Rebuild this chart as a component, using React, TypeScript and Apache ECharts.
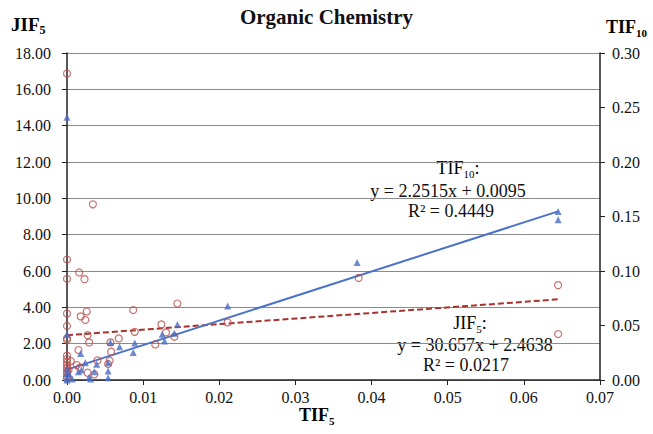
import React, { useEffect, useRef } from "react";
import * as echarts from "echarts";

// TIF5 (x) vs JIF5 (left axis)
const jifX = [
  0, 0.0034, 0, 0.0016, 0, 0.0023, 0, 0, 0.0018, 0.0026, 0.0024, 0.0087, 0.0145,
  0, 0, 0.0027, 0.0029, 0.0057, 0.0068, 0.0089, 0.0124, 0.013, 0.0141, 0.0116,
  0, 0.0015, 0.0005, 0.0017, 0.0013, 0.004, 0.0027, 0.0036, 0.0058, 0.0056, 0.0054,
  0.0211, 0.0383, 0.0645, 0.0645,
  0, 0, 0, 0, 0, 0, 0, 0, 0.0002,
];
const jifY = [
  16.87, 9.67, 6.63, 5.92, 5.57, 5.55, 3.66, 2.97, 3.5, 3.77, 3.3, 3.85, 4.21,
  2.3, 2.2, 2.47, 2.07, 2.07, 2.29, 2.65, 3.06, 2.62, 2.38, 1.96,
  1.34, 1.65, 1.04, 0.68, 0.82, 1.08, 0.4, 0.31, 1.56, 1.06, 0.88,
  3.17, 5.62, 5.22, 2.53,
  1.15, 0.98, 0.82, 0.65, 0.5, 0.35, 0.18, 0.08, 0.55,
];

// TIF5 (x) vs TIF10 (right axis)
const tifX = [
  0, 0.0381, 0.0645, 0.0645, 0.0211, 0.0145, 0.0125, 0.0128, 0.0141, 0.0089,
  0.0087, 0.0069, 0.0057, 0, 0.0018, 0.0024, 0.0003, 0.0015, 0.0019, 0.0036,
  0.0039, 0.0054, 0.0054, 0.0054, 0.0029, 0.0031, 0, 0, 0, 0, 0.0007,
];
const tifY = [
  0.241, 0.1077, 0.1546, 0.147, 0.068, 0.051, 0.042, 0.0357, 0.043, 0.034,
  0.0253, 0.0305, 0.0345, 0.042, 0.0244, 0.0158, 0.0052, 0.0076, 0.0091, 0.0076,
  0.0144, 0.0158, 0.0082, 0.002, 0.0025, 0.001, 0.002, 0.006, 0.01, 0, 0.001,
];

// Trend line coefficients [slope, intercept] and x range
const jifTrend = [30.657, 2.4638];
const tifTrend = [2.2515, 0.0095];
const trendXRange = [0, 0.0645];

const xTicks = [0, 0.01, 0.02, 0.03, 0.04, 0.05, 0.06, 0.07];
const leftTicks = [0, 2, 4, 6, 8, 10, 12, 14, 16, 18];
const rightTicks = [0, 0.05, 0.1, 0.15, 0.2, 0.25, 0.3];

const SERIF = "'Liberation Serif', 'Times New Roman', serif";

export default function App() {
  const ref = useRef<HTMLDivElement>(null);
  useEffect(() => {
    document.body.style.margin = "0";
    const chart = echarts.init(ref.current!, null, { renderer: "svg" });
    const line = (c: number[]) =>
      trendXRange.map((x) => [x, c[0] * x + c[1]]);
    const sub = (size: number, bold: boolean) => ({
      a: { fontFamily: SERIF, fontSize: size, fontWeight: bold ? "bold" : "normal", color: "#111", lineHeight: size + 1, verticalAlign: "bottom" as const },
      b: { fontFamily: SERIF, fontSize: Math.round(size * 0.62), fontWeight: bold ? "bold" : "normal", color: "#111", lineHeight: Math.round(size * 0.62), verticalAlign: "bottom" as const, padding: [0, 0, -2, 0] },
    });
    const axisLabel = {
      fontFamily: SERIF,
      fontSize: 16,
      color: "#111",
      formatter: (v: number) => v.toFixed(2),
    };
    const plain = (text: string, x: number, y: number) => ({
      type: "text",
      x,
      y,
      style: { text, fontFamily: SERIF, fontSize: 18, fill: "#111", align: "center" },
    });
    chart.setOption({
      animation: false,
      backgroundColor: "#fff",
      grid: { left: 67, right: 53, top: 53, bottom: 54 },
      xAxis: {
        type: "value",
        min: xTicks[0],
        max: xTicks[xTicks.length - 1],
        interval: 0.01,
        axisLine: { show: true, onZero: false, lineStyle: { color: "#222", width: 1.5 } },
        axisTick: { show: true, inside: false, length: 5, lineStyle: { color: "#222" } },
        splitLine: { show: false },
        axisLabel: { ...axisLabel, margin: 9 },
      },
      yAxis: [
        {
          type: "value",
          min: leftTicks[0],
          max: leftTicks[leftTicks.length - 1],
          interval: 2,
          axisLine: { show: true, onZero: false, lineStyle: { color: "#222", width: 1.5 } },
          axisTick: { show: true, length: 5, lineStyle: { color: "#222" } },
          splitLine: { show: true, lineStyle: { color: "#8a8a8a", width: 1 } },
          axisLabel: { ...axisLabel, margin: 16 },
        },
        {
          type: "value",
          min: rightTicks[0],
          max: rightTicks[rightTicks.length - 1],
          interval: 0.05,
          position: "right",
          axisLine: { show: true, onZero: false, lineStyle: { color: "#222", width: 1.5 } },
          axisTick: { show: true, length: 5, lineStyle: { color: "#222" } },
          splitLine: { show: false },
          axisLabel: { ...axisLabel, margin: 12 },
        },
      ],
      series: [
        {
          name: "JIF5",
          type: "scatter",
          yAxisIndex: 0,
          symbol: "circle",
          symbolSize: 7,
          itemStyle: { color: "rgba(0,0,0,0)", borderColor: "#b8504e", borderWidth: 1.2 },
          data: jifX.map((x, i) => [x, jifY[i]]),
          z: 3,
        },
        {
          name: "TIF10",
          type: "scatter",
          yAxisIndex: 1,
          symbol: "triangle",
          symbolSize: 7,
          itemStyle: { color: "#4a6cc4" },
          data: tifX.map((x, i) => [x, tifY[i]]),
          z: 4,
        },
        {
          name: "JIF5 trend",
          type: "line",
          yAxisIndex: 0,
          showSymbol: false,
          symbol: "none",
          lineStyle: { color: "#a8322e", width: 2, type: [6, 3] },
          data: line(jifTrend),
          z: 2,
        },
        {
          name: "TIF10 trend",
          type: "line",
          yAxisIndex: 1,
          showSymbol: false,
          symbol: "none",
          lineStyle: { color: "#4a72c8", width: 2 },
          data: line(tifTrend),
          z: 2,
        },
      ],
      graphic: [
        {
          type: "text",
          left: "center",
          top: 6,
          style: { text: "Organic Chemistry", fontFamily: SERIF, fontSize: 21, fontWeight: "bold", fill: "#111" },
        },
        {
          type: "text",
          left: 11,
          top: 15,
          style: { text: "{a|JIF}{b|5}", rich: sub(19, true) },
        },
        {
          type: "text",
          left: 606,
          top: 18,
          style: { text: "{a|TIF}{b|10}", rich: sub(18, true) },
        },
        {
          type: "text",
          left: 299,
          top: 406,
          style: { text: "{a|TIF}{b|5}", rich: sub(18, true) },
        },
        {
          type: "text",
          x: 458,
          y: 158,
          style: { text: "{a|TIF}{b|10}{a|:}", rich: sub(18, false), align: "center" },
        },
        plain("y = 2.2515x + 0.0095", 448, 182),
        plain("R² = 0.4449", 451, 202),
        {
          type: "text",
          x: 470,
          y: 313,
          style: { text: "{a|JIF}{b|5}{a|:}", rich: sub(18, false), align: "center" },
        },
        plain("y = 30.657x + 2.4638", 475, 336),
        plain("R² = 0.0217", 466, 356),
      ],
    });
    return () => chart.dispose();
  }, []);
  return <div ref={ref} style={{ width: 653, height: 434 }} />;
}
